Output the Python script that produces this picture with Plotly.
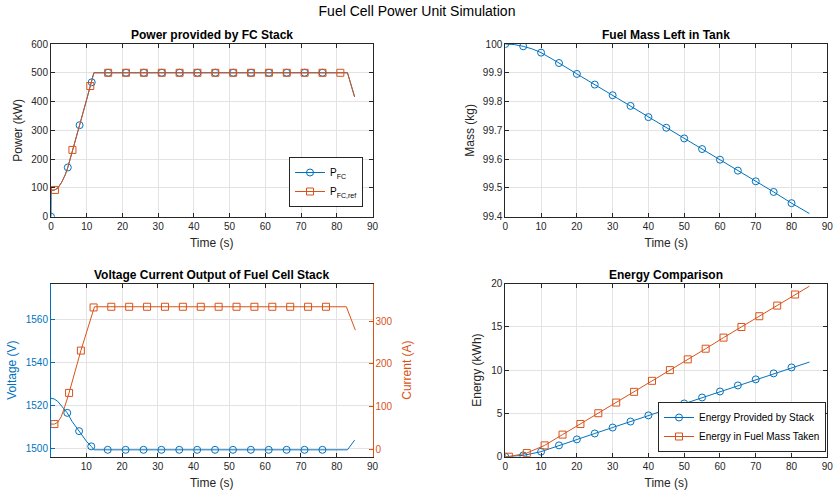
import plotly.graph_objects as go

BLUE = "#0072BD"
ORANGE = "#D95319"
DARK = "#262626"
GRID = "#e3e3e3"
FONT = "Liberation Sans, Arial, sans-serif"

# ---------------- Data ----------------
# Power provided by FC stack (kW)
pwr_t = [0, 0.05, 1.1, 2, 3, 4, 4.7, 6, 8, 10, 11, 11.4, 12, 83, 85]
p_fc = [0, 92, 93, 101, 120, 146, 171, 232, 318, 408, 454, 467, 500, 500, 416]
p_ref = [90, 91, 93, 101, 120, 146, 171, 232, 318, 408, 454, 467, 500, 500, 416]
p_fc_mk_t = [0, 4.7, 8, 11.4, 16, 21, 26, 31, 36, 41, 46, 51, 56, 61, 66, 71, 76]
p_fc_mk = [0, 171, 318, 467, 500, 500, 500, 500, 500, 500, 500, 500, 500, 500, 500, 500, 500]
p_ref_mk_t = [1.1, 6, 11, 16, 21, 26, 31, 36, 41, 46, 51, 56, 61, 66, 71, 76, 81]
p_ref_mk = [93, 232, 454, 500, 500, 500, 500, 500, 500, 500, 500, 500, 500, 500, 500, 500, 500]

# Fuel mass left in tank (kg)
mass_t = [0, 2.5, 5, 7.5, 10, 12.5, 15, 20, 25, 30, 35, 40, 45, 50, 55, 60, 65, 70, 75, 80, 85]
mass = [100.0, 99.998, 99.992, 99.983, 99.970, 99.953, 99.934, 99.896, 99.859, 99.822, 99.785,
        99.746, 99.709, 99.672, 99.635, 99.598, 99.560, 99.523, 99.486, 99.447, 99.411]
mass_mk_t = [0, 5, 10, 15, 20, 25, 30, 35, 40, 45, 50, 55, 60, 65, 70, 75, 80]
mass_mk = [100.0, 99.992, 99.970, 99.934, 99.896, 99.859, 99.822, 99.785, 99.746, 99.709,
           99.672, 99.635, 99.598, 99.560, 99.523, 99.486, 99.447]

# Voltage (V) and current (A) of the stack
volt_t = [0.15, 1, 2, 3, 4.7, 6, 8, 10, 11.4, 12.2, 83, 85]
volt = [1523.3, 1523.0, 1521.9, 1519.8, 1516.5, 1512.6, 1508.0, 1503.4, 1500.9, 1499.3, 1499.3, 1503.8]
volt_mk_t = [4.7, 8, 11.4, 16, 21, 26, 31, 36, 41, 46, 51, 56, 61, 66, 71, 76]
volt_mk = [1516.5, 1508.0, 1500.9, 1499.3, 1499.3, 1499.3, 1499.3, 1499.3, 1499.3, 1499.3,
           1499.3, 1499.3, 1499.3, 1499.3, 1499.3, 1499.3]
curr_t = [0.15, 1.1, 2, 3, 4, 5.2, 8.5, 12.05, 12.3, 82.7, 85.2]
curr = [59, 59, 63, 76, 100, 132, 231, 332, 333.6, 333.6, 279]
curr_mk_t = [1.1, 5.2, 8.5, 12.05, 17, 22, 27, 32, 37, 42, 47, 52, 57, 62, 67, 72, 77]
curr_mk = [59, 132, 231, 332, 333.6, 333.6, 333.6, 333.6, 333.6, 333.6, 333.6, 333.6, 333.6,
           333.6, 333.6, 333.6, 333.6]

# Energy comparison (kWh)
e_stack_t = [0, 5, 10, 15, 20, 25, 30, 35, 40, 45, 50, 55, 60, 65, 70, 75, 80, 85]
e_stack = [0, 0.15, 0.58, 1.31, 2.0, 2.68, 3.37, 4.06, 4.77, 5.45, 6.15, 6.84, 7.53, 8.23,
           8.93, 9.62, 10.31, 10.93]
e_stack_mk_t = e_stack_t[:-1]
e_stack_mk = e_stack[:-1]
e_fuel_t = [0, 1, 6, 11, 16, 21, 26, 31, 36, 41, 46, 51, 56, 61, 66, 71, 76, 81, 85]
e_fuel = [0, 0, 0.42, 1.31, 2.55, 3.78, 5.02, 6.25, 7.49, 8.76, 10.0, 11.24, 12.47, 13.75,
          14.98, 16.22, 17.45, 18.73, 19.69]
e_fuel_mk_t = e_fuel_t[1:-1]
e_fuel_mk = e_fuel[1:-1]

x_ticks = [0, 10, 20, 30, 40, 50, 60, 70, 80, 90]
mass_ticks = [99.4, 99.5, 99.6, 99.7, 99.8, 99.9, 100]
mass_tick_text = ["99.4", "99.5", "99.6", "99.7", "99.8", "99.9", "100"]

# ---------------- Figure ----------------
fig = go.Figure()
CIRC = dict(symbol="circle-open", size=7, line=dict(width=1))
SQR = dict(symbol="square-open", size=7, line=dict(width=1))


def add_series(t, y, mt, my, color, marker, name, xa, ya, legend):
    fig.add_trace(go.Scatter(x=t, y=y, mode="lines", line=dict(color=color, width=1),
                             xaxis=xa, yaxis=ya, showlegend=False, hoverinfo="skip"))
    fig.add_trace(go.Scatter(x=mt, y=my, mode="markers",
                             marker=dict(color=color, **marker),
                             xaxis=xa, yaxis=ya, showlegend=False))
    if name:
        fig.add_trace(go.Scatter(x=[None], y=[None], mode="lines+markers", name=name,
                                 line=dict(color=color, width=1),
                                 marker=dict(color=color, **marker),
                                 xaxis=xa, yaxis=ya, legend=legend))


add_series(pwr_t, p_fc, p_fc_mk_t, p_fc_mk, BLUE, CIRC, "P<sub>FC</sub>", "x", "y", "legend")
add_series(pwr_t, p_ref, p_ref_mk_t, p_ref_mk, ORANGE, SQR, "P<sub>FC,ref</sub>", "x", "y", "legend")
add_series(mass_t, mass, mass_mk_t, mass_mk, BLUE, CIRC, None, "x2", "y2", None)
add_series(volt_t, volt, volt_mk_t, volt_mk, BLUE, CIRC, None, "x3", "y3", None)
add_series(curr_t, curr, curr_mk_t, curr_mk, ORANGE, SQR, None, "x3", "y4", None)
add_series(e_stack_t, e_stack, e_stack_mk_t, e_stack_mk, BLUE, CIRC, "Energy Provided by Stack", "x4", "y5", "legend2")
add_series(e_fuel_t, e_fuel, e_fuel_mk_t, e_fuel_mk, ORANGE, SQR, "Energy in Fuel Mass Taken", "x4", "y5", "legend2")

W, H = 834, 498
def px_x(a, b):
    return [a / W, b / W]
def px_y(top, bot):
    return [1 - bot / H, 1 - top / H]

XL = px_x(51, 372.5)
XR = px_x(505.3, 827.3)
YT = px_y(44, 216.7)
YB = px_y(283.5, 456.7)

tickfont = dict(family=FONT, size=10, color=DARK)
titlefont = dict(family=FONT, size=12, color=DARK)

def xax(domain, anchor, rng, tickvals):
    return dict(domain=domain, anchor=anchor, range=rng, tickvals=tickvals,
                showline=True, linecolor=DARK, linewidth=1, mirror="ticks",
                ticks="inside", ticklen=4, tickcolor=DARK, tickfont=tickfont,
                showgrid=True, gridcolor=GRID, zeroline=False, automargin=False,
                title=dict(text="Time (s)", font=titlefont, standoff=7))

def yax(domain, anchor, rng, tickvals, title, standoff, ticktext=None):
    d = dict(domain=domain, anchor=anchor, range=rng, tickvals=tickvals,
             showline=True, linecolor=DARK, linewidth=1, mirror="ticks",
             ticks="inside", ticklen=4, tickcolor=DARK, tickfont=tickfont,
             showgrid=True, gridcolor=GRID, zeroline=False, automargin=False,
             title=dict(text=title, font=titlefont, standoff=standoff))
    if ticktext is not None:
        d["ticktext"] = ticktext
    return d

legend_style = dict(bgcolor="white", bordercolor=DARK, borderwidth=1,
                    font=dict(family=FONT, size=10, color="#000000"),
                    itemwidth=30, tracegroupgap=0)

layout = dict(
    width=W, height=H,
    margin=dict(l=0, r=0, t=0, b=0),
    paper_bgcolor="white", plot_bgcolor="white",
    font=dict(family=FONT, color=DARK),
    title=dict(text="Fuel Cell Power Unit Simulation", x=0.5, xanchor="center",
               y=1 - 11 / H, yanchor="middle", yref="container",
               font=dict(family=FONT, size=14, color="#000000")),
    xaxis=xax(XL, "y", [0, 90], x_ticks),
    yaxis=yax(YT, "x", [0, 600], [0, 100, 200, 300, 400, 500, 600], "Power (kW)", 6),
    xaxis2=xax(XR, "y2", [0, 90], x_ticks),
    yaxis2=yax(YT, "x2", [99.4, 100], mass_ticks, "Mass (kg)", 5, mass_tick_text),
    xaxis3=xax(XL, "y3", [0.15, 90], x_ticks[1:]),
    yaxis3=dict(domain=YB, anchor="x3", range=[1496.1, 1576.7], tickvals=[1500, 1520, 1540, 1560],
                showline=True, linecolor=BLUE, linewidth=1, mirror=False,
                ticks="inside", ticklen=4, tickcolor=BLUE,
                tickfont=dict(family=FONT, size=10, color=BLUE),
                showgrid=True, gridcolor=GRID, zeroline=False, automargin=False,
                title=dict(text="Voltage (V)", font=dict(family=FONT, size=12, color=BLUE), standoff=6)),
    yaxis4=dict(domain=YB, anchor="x3", overlaying="y3", side="right", range=[-17.3, 388],
                tickvals=[0, 100, 200, 300],
                showline=True, linecolor=ORANGE, linewidth=1, mirror=False,
                ticks="inside", ticklen=4, tickcolor=ORANGE,
                tickfont=dict(family=FONT, size=10, color=ORANGE),
                showgrid=False, zeroline=False, automargin=False,
                title=dict(text="Current (A)", font=dict(family=FONT, size=12, color=ORANGE), standoff=10)),
    xaxis4=xax(XR, "y5", [0, 90], x_ticks),
    yaxis5=yax(YB, "x4", [0, 20], [0, 5, 10, 15, 20], "Energy (kWh)", 6),
    legend=dict(x=363 / W, y=1 - 207 / H, xanchor="right", yanchor="bottom", **legend_style),
    legend2=dict(x=826 / W, y=1 - 452 / H, xanchor="right", yanchor="bottom", **legend_style),
    annotations=[],
)

subtitles = [
    ("Power provided by FC Stack", (XL[0] + XL[1]) / 2, 35),
    ("Fuel Mass Left in Tank", (XR[0] + XR[1]) / 2, 35),
    ("Voltage Current Output of Fuel Cell Stack", (XL[0] + XL[1]) / 2, 275),
    ("Energy Comparison", (XR[0] + XR[1]) / 2, 275),
]
for text, xc, ypx in subtitles:
    layout["annotations"].append(dict(
        text="<b>" + text + "</b>", x=xc, y=1 - ypx / H, xref="paper", yref="paper",
        xanchor="center", yanchor="middle", showarrow=False,
        font=dict(family=FONT, size=12, color="#000000")))

fig.update_layout(**layout)
fig.write_html("out.html")
